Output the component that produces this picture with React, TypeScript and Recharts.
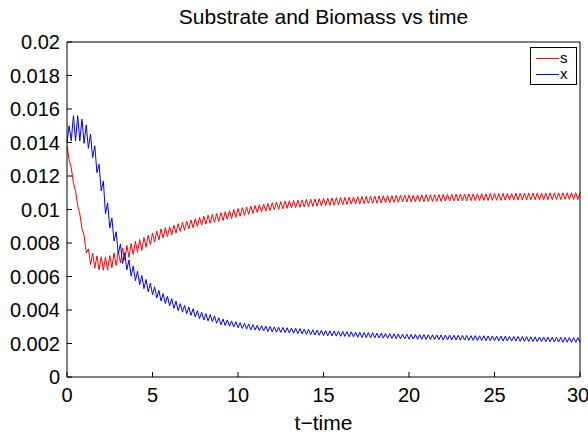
import React from "react";
import { LineChart, Line, XAxis, YAxis, Legend } from "recharts";

const FONT = '"Liberation Sans", Arial, Helvetica, sans-serif';

// sample spacing of the solver output (time units)
const T_STEP = 0.125;

// substrate s (peak / trough alternating)
const sValues = [
  0.0138, 0.01296, 0.01248, 0.01159, 0.0111, 0.01022, 0.00973, 0.00885,
  0.00846, 0.0074, 0.00765, 0.00672, 0.00738, 0.0065, 0.00724, 0.0064,
  0.00718, 0.00637, 0.00717, 0.00638, 0.00725, 0.00652, 0.0074, 0.00666,
  0.00752, 0.00681, 0.0077, 0.00697, 0.00785, 0.00714, 0.00797, 0.00731,
  0.0081, 0.00744, 0.00821, 0.00756, 0.00833, 0.00774, 0.00847, 0.00791,
  0.0086, 0.00806, 0.00872, 0.00819, 0.00884, 0.0083, 0.00891, 0.00838,
  0.00897, 0.00848, 0.00906, 0.00859, 0.00915, 0.00869, 0.00923, 0.00876,
  0.0093, 0.00884, 0.00938, 0.00891, 0.00945, 0.00899, 0.00953, 0.00907,
  0.0096, 0.00913, 0.00966, 0.00918, 0.00971, 0.00923, 0.00976, 0.00928,
  0.00981, 0.00934, 0.00987, 0.0094, 0.00993, 0.00946, 0.01, 0.00953,
  0.01006, 0.0096, 0.01011, 0.00965, 0.01015, 0.00971, 0.0102, 0.00976,
  0.01024, 0.00982, 0.01028, 0.00986, 0.01032, 0.0099, 0.01036, 0.00994,
  0.0104, 0.00998, 0.01044, 0.01001, 0.01047, 0.01004, 0.0105, 0.01007,
  0.01052, 0.01009, 0.01054, 0.01011, 0.01056, 0.01013, 0.01058, 0.01015,
  0.0106, 0.01017, 0.01062, 0.01018, 0.01063, 0.0102, 0.01065, 0.01021,
  0.01066, 0.01023, 0.01068, 0.01024, 0.01069, 0.01026, 0.0107, 0.01027,
  0.01071, 0.01029, 0.01072, 0.0103, 0.01073, 0.01032, 0.01074, 0.01033,
  0.01076, 0.01034, 0.01077, 0.01035, 0.01078, 0.01036, 0.01079, 0.01037,
  0.0108, 0.01038, 0.01081, 0.01039, 0.01082, 0.0104, 0.01083, 0.01041,
  0.01083, 0.01043, 0.01084, 0.01044, 0.01084, 0.01045, 0.01085, 0.01045,
  0.01086, 0.01046, 0.01086, 0.01046, 0.01087, 0.01047, 0.01087, 0.01047,
  0.01088, 0.01048, 0.01088, 0.01048, 0.01089, 0.01049, 0.01089, 0.01049,
  0.0109, 0.0105, 0.0109, 0.0105, 0.01091, 0.01051, 0.01091, 0.01051,
  0.01092, 0.01052, 0.01092, 0.01052, 0.01093, 0.01053, 0.01093, 0.01053,
  0.01094, 0.01054, 0.01094, 0.01054, 0.01094, 0.01054, 0.01095, 0.01055,
  0.01095, 0.01055, 0.01095, 0.01055, 0.01096, 0.01056, 0.01096, 0.01056,
  0.01096, 0.01056, 0.01097, 0.01057, 0.01097, 0.01057, 0.01097, 0.01057,
  0.01098, 0.01058, 0.01098, 0.01058, 0.01098, 0.01058, 0.01098, 0.01058,
  0.01099, 0.01059, 0.01099, 0.01059, 0.01099, 0.01059, 0.01099, 0.01059,
  0.011, 0.0106, 0.011, 0.0106, 0.011, 0.0106, 0.011, 0.0106,
  0.011,
];

// biomass x (trough / peak alternating)
const xValues = [
  0.014, 0.015, 0.0141, 0.0156, 0.0141, 0.0156, 0.0141, 0.0154,
  0.01395, 0.01505, 0.01365, 0.0145, 0.0131, 0.0138, 0.0122, 0.0127,
  0.0111, 0.0117, 0.00975, 0.0104, 0.0089, 0.0095, 0.00812, 0.00867,
  0.00735, 0.00794, 0.00677, 0.00742, 0.0064, 0.00699, 0.00602, 0.00662,
  0.00575, 0.00632, 0.00551, 0.00606, 0.00528, 0.00582, 0.00509, 0.0056,
  0.00492, 0.00538, 0.00472, 0.00517, 0.00453, 0.00498, 0.00439, 0.00483,
  0.00425, 0.00468, 0.0041, 0.00452, 0.00396, 0.00438, 0.00387, 0.00428,
  0.00378, 0.00417, 0.00368, 0.00407, 0.00359, 0.00396, 0.00349, 0.00386,
  0.0034, 0.00378, 0.00335, 0.00373, 0.00331, 0.00364, 0.00321, 0.00354,
  0.00312, 0.00346, 0.00307, 0.00341, 0.00303, 0.00335, 0.00298, 0.0033,
  0.00294, 0.00324, 0.0029, 0.0032, 0.00286, 0.00316, 0.00282, 0.00313,
  0.0028, 0.00309, 0.00277, 0.00306, 0.00275, 0.00304, 0.00272, 0.00301,
  0.0027, 0.00299, 0.00268, 0.00297, 0.00266, 0.00296, 0.00265, 0.00294,
  0.00263, 0.00292, 0.00261, 0.00291, 0.00259, 0.00289, 0.00257, 0.00286,
  0.00255, 0.00284, 0.00253, 0.00282, 0.00251, 0.0028, 0.00249, 0.00278,
  0.00247, 0.00277, 0.00246, 0.00276, 0.00245, 0.00275, 0.00244, 0.00274,
  0.00243, 0.00272, 0.00242, 0.00271, 0.0024, 0.0027, 0.00239, 0.00268,
  0.00237, 0.00267, 0.00236, 0.00266, 0.00235, 0.00265, 0.00234, 0.00264,
  0.00234, 0.00262, 0.00233, 0.00261, 0.00232, 0.0026, 0.00231, 0.00259,
  0.0023, 0.00258, 0.00229, 0.00257, 0.00228, 0.00256, 0.00227, 0.00255,
  0.00226, 0.00254, 0.00226, 0.00254, 0.00225, 0.00253, 0.00225, 0.00253,
  0.00224, 0.00252, 0.00224, 0.00252, 0.00223, 0.00251, 0.00223, 0.00251,
  0.00222, 0.0025, 0.00222, 0.0025, 0.00221, 0.00249, 0.00221, 0.00249,
  0.0022, 0.00248, 0.0022, 0.00248, 0.00219, 0.00247, 0.00219, 0.00247,
  0.00218, 0.00246, 0.00218, 0.00246, 0.00217, 0.00245, 0.00217, 0.00245,
  0.00216, 0.00244, 0.00216, 0.00244, 0.00215, 0.00243, 0.00215, 0.00243,
  0.00214, 0.00242, 0.00214, 0.00242, 0.00213, 0.00241, 0.00213, 0.00241,
  0.00212, 0.0024, 0.00212, 0.0024, 0.00211, 0.00239, 0.00211, 0.00239,
  0.0021, 0.00238, 0.0021, 0.00238, 0.00209, 0.00237, 0.00209, 0.00237,
  0.00208, 0.00236, 0.00208, 0.00236, 0.00207, 0.00235, 0.00207, 0.00235,
  0.00206,
];

const xTicks = [0, 5, 10, 15, 20, 25, 30];
const yTicks = [0, 0.002, 0.004, 0.006, 0.008, 0.01, 0.012, 0.014, 0.016, 0.018, 0.02];

const data = sValues.map((s, i) => ({ t: i * T_STEP, s, x: xValues[i] }));

const fmtY = (v: number) => String(+v.toFixed(3));

const tickStyle = { fill: "#000", fontSize: 20, fontFamily: FONT };

const LegendBox = ({ payload }: { payload?: { value: string; color: string }[] }) => (
  <div
    style={{
      border: "1px solid #000",
      background: "#fff",
      width: 45,
      height: 34,
      boxSizing: "content-box",
      fontFamily: FONT,
      fontSize: 15,
      paddingTop: 2,
    }}
  >
    {(payload ?? []).map((p) => (
      <div key={p.value} style={{ display: "flex", alignItems: "center", height: 16 }}>
        <span style={{ display: "inline-block", width: 23, height: 1, background: p.color, marginLeft: 5 }} />
        <span style={{ marginLeft: 1, lineHeight: "16px" }}>{p.value}</span>
      </div>
    ))}
  </div>
);

export default function App() {
  return (
    <div style={{ position: "absolute", left: 0, top: 0, width: 588, height: 434, background: "#fff" }}>
      <style>{`body{margin:0}`}</style>
      <div
        style={{
          position: "absolute",
          left: 67,
          width: 513,
          top: 5,
          textAlign: "center",
          fontFamily: FONT,
          fontSize: 21,
          color: "#000",
        }}
      >
        Substrate and Biomass vs time
      </div>
      <LineChart width={588} height={434} data={data} margin={{ top: 41, right: 7, bottom: 0, left: 0 }}>
        <XAxis
          dataKey="t"
          type="number"
          domain={[0, 30]}
          ticks={xTicks}
          height={57}
          tickSize={-5}
          tickMargin={16}
          stroke="#000"
          tick={tickStyle}
          label={{ value: "t−time", position: "insideBottom", offset: 4, fill: "#000", fontSize: 21, fontFamily: FONT }}
        />
        <XAxis
          xAxisId="top"
          orientation="top"
          type="number"
          domain={[0, 30]}
          allowDataOverflow
          ticks={xTicks}
          height={1}
          tickSize={-5}
          tick={false}
          stroke="#000"
        />
        <YAxis
          type="number"
          domain={[0, 0.02]}
          ticks={yTicks}
          width={67}
          tickSize={-5}
          tickMargin={12}
          tickFormatter={fmtY}
          stroke="#000"
          tick={tickStyle}
        />
        <YAxis
          yAxisId="right"
          orientation="right"
          type="number"
          domain={[0, 0.02]}
          allowDataOverflow
          ticks={yTicks}
          width={1}
          tickSize={-5}
          tick={false}
          stroke="#000"
        />
        <Legend
          layout="horizontal"
          verticalAlign="middle"
          align="center"
          content={<LegendBox />}
          wrapperStyle={{ left: 530, top: 47, width: 47, height: 36 }}
        />
        <Line type="linear" dataKey="s" name="s" stroke="#ff0000" strokeWidth={1} dot={false} isAnimationActive={false} />
        <Line type="linear" dataKey="x" name="x" stroke="#0000ff" strokeWidth={1} dot={false} isAnimationActive={false} />
      </LineChart>
    </div>
  );
}
